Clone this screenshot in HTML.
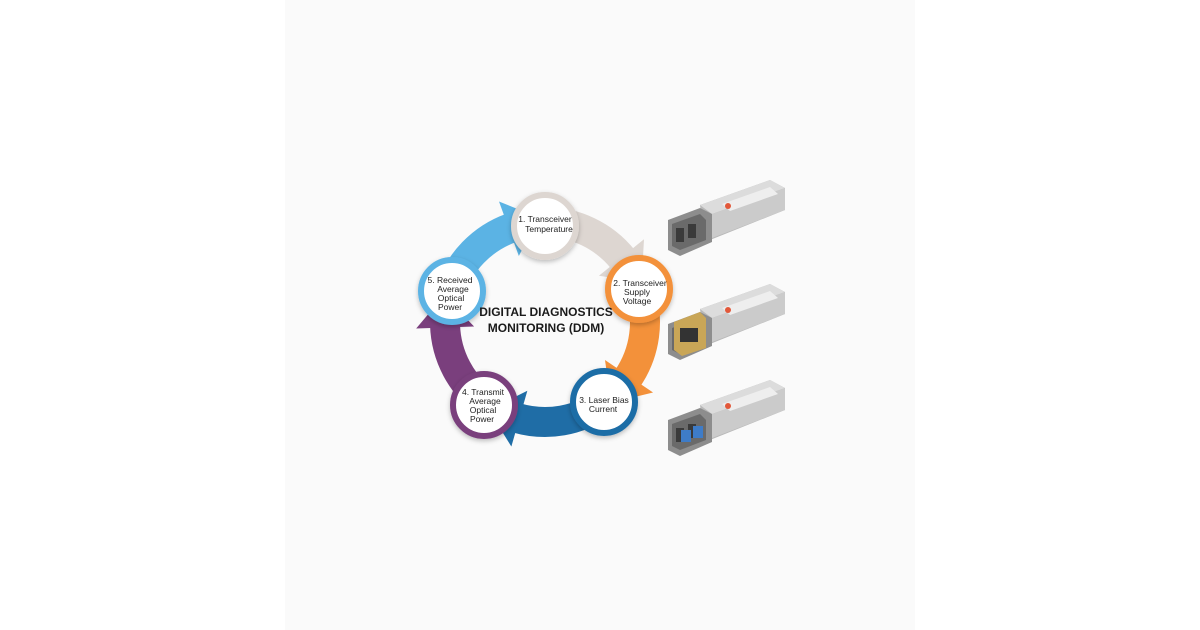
<!DOCTYPE html>
<html><head><meta charset="utf-8"><style>
html,body{margin:0;padding:0;background:#fff;}
.wrap{position:relative;width:1200px;height:630px;overflow:hidden;background:#fff;}
.sq{position:absolute;left:285px;top:0;width:630px;height:630px;background:#fafafa;}
svg{position:absolute;left:0;top:0;}
</style></head><body><div class="wrap"><div class="sq"></div>
<svg width="1200" height="630" viewBox="0 0 1200 630" font-family="Liberation Sans, sans-serif">
<defs>
<filter id="sh" x="-30%" y="-30%" width="160%" height="160%"><feDropShadow dx="0" dy="2" stdDeviation="2.5" flood-color="#000" flood-opacity="0.25"/></filter>
</defs>
<g fill="none" stroke-width="30">
<circle cx="545" cy="322" r="100" stroke="#ddd6d1" stroke-dasharray="89 1000" transform="rotate(-90 545 322)"/>
<circle cx="545" cy="322" r="100" stroke="#f3913a" stroke-dasharray="93 1000" transform="rotate(-19 545 322)"/>
<circle cx="545" cy="322" r="100" stroke="#1f6da6" stroke-dasharray="91 1000" transform="rotate(54 545 322)"/>
<circle cx="545" cy="322" r="100" stroke="#7a3f7d" stroke-dasharray="91 1000" transform="rotate(126 545 322)"/>
<circle cx="545" cy="322" r="100" stroke="#5bb3e4" stroke-dasharray="91 1000" transform="rotate(198 545 322)"/>
</g>
<g>
<polygon points="616,320 674,320 645,352" fill="#ddd6d1" transform="rotate(-39 545 322)"/>
<polygon points="616,320 674,320 645,352" fill="#f3913a" transform="rotate(34 545 322)"/>
<polygon points="616,320 674,320 645,352" fill="#1f6da6" transform="rotate(106 545 322)"/>
<polygon points="616,320 674,320 645,352" fill="#7a3f7d" transform="rotate(178 545 322)"/>
<polygon points="616,320 674,320 645,352" fill="#5bb3e4" transform="rotate(250 545 322)"/>
</g>
<g stroke-width="6" fill="#fff" filter="url(#sh)">
<circle cx="545" cy="226" r="31" stroke="#ddd6d1"/>
<circle cx="639" cy="289" r="31" stroke="#f3913a"/>
<circle cx="604" cy="402" r="31" stroke="#1f6da6"/>
<circle cx="484" cy="405" r="31" stroke="#7a3f7d"/>
<circle cx="452" cy="291" r="31" stroke="#5bb3e4"/>
</g>
<g font-size="8.5" fill="#222" text-anchor="middle">
<text x="545" y="222">1. Transceiver</text><text x="549" y="232">Temperature</text>
<text x="640" y="286">2. Transceiver</text><text x="637" y="295">Supply</text><text x="637" y="304">Voltage</text>
<text x="604" y="403">3. Laser Bias</text><text x="603" y="412">Current</text>
<text x="483" y="395">4. Transmit</text><text x="485" y="404">Average</text><text x="483" y="413">Optical</text><text x="482" y="422">Power</text>
<text x="450" y="283">5. Received</text><text x="453" y="292">Average</text><text x="451" y="301">Optical</text><text x="450" y="310">Power</text>
</g>
<g font-size="12" font-weight="bold" fill="#1a1a1a" text-anchor="middle">
<text x="546" y="316">DIGITAL DIAGNOSTICS</text>
<text x="546" y="332">MONITORING (DDM)</text>
</g>
<g id="m">
<polygon points="700,205 770,180 785,188 785,210 705,242" fill="#b9b9b9"/>
<polygon points="700,205 770,180 785,188 712,214" fill="#dcdcdc"/>
<polygon points="712,214 785,188 785,210 712,238" fill="#cbcbcb"/>
<polygon points="722,204 770,187 778,194 730,211" fill="#eeeeee"/>
<polygon points="668,220 700,208 712,214 712,242 680,256 668,250" fill="#8d8d8d"/>
<polygon points="672,224 700,214 706,220 706,240 680,250 672,246" fill="#6a6a6a"/>
<rect x="676" y="228" width="8" height="14" fill="#3a3a3a"/>
<rect x="688" y="224" width="8" height="14" fill="#3a3a3a"/>
<circle cx="728" cy="206" r="3" fill="#e2583a"/>
</g>
<use href="#m" transform="translate(0,104)"/>
<use href="#m" transform="translate(0,200)"/>
<polygon points="674,322 700,312 706,318 706,348 682,356 674,350" fill="#c9a657"/>
<rect x="680" y="328" width="18" height="14" fill="#333"/>
<rect x="681" y="430" width="10" height="12" fill="#3e7cc8"/>
<rect x="693" y="426" width="10" height="12" fill="#3e7cc8"/>
</svg></div></body></html>
